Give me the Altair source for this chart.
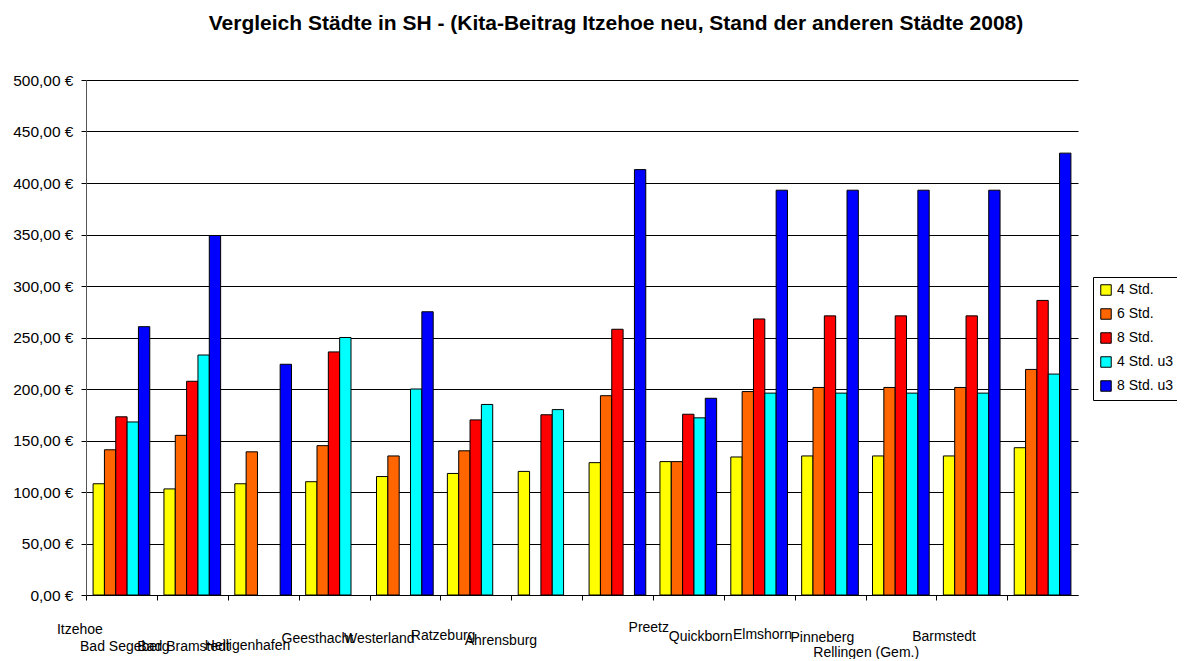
import altair as alt
import pandas as pd

cities = ["Itzehoe", "Bad Segeberg", "Bad Bramstedt", "Heiligenhafen", "Geesthacht",
          "Westerland", "Ratzeburg", "Ahrensburg", "Preetz", "Quickborn", "Elmshorn",
          "Pinneberg", "Rellingen (Gem.)", "Barmstedt"]
series = ["4 Std.", "6 Std.", "8 Std.", "4 Std. u3", "8 Std. u3"]
colors = ["#FFFF00", "#FF6600", "#FF0000", "#00FFFF", "#0000FF"]

std4 = [108, 103, 108, 110, 115, 118, 120, 128.5, 129.5, 134, 135, 135, 135, 143]
std6 = [141, 155, 139, 145, 135, 140, None, 193.5, 129.5, 197.5, 201.5, 201.5, 201.5, 219]
std8 = [173, 207.5, None, 236, None, 170, 175, 258, 175.5, 268, 271, 271, 271, 286]
std4u3 = [168, 233, None, 250, 200, 185, 180, None, 172, 196, 196, 196, 196, 214.5]
std8u3 = [260.5, 349, 224, None, 275, None, None, 413, 191, 393, 393, 393, 393, 429]

values = [std4, std6, std8, std4u3, std8u3]
rows = []
for s, vals in zip(series, values):
    for c, v in zip(cities, vals):
        if v is not None:
            rows.append({"Stadt": c, "Serie": s, "Beitrag": v})
df = pd.DataFrame(rows)

# label placement (Excel-like staggered category labels)
lab_dx = {"Itzehoe": -42, "Bad Segeberg": -68, "Bad Bramstedt": -80, "Heiligenhafen": -87,
          "Geesthacht": -88, "Westerland": -97, "Ratzeburg": -104, "Ahrensburg": -117,
          "Preetz": -40, "Quickborn": -59, "Elmshorn": -68, "Pinneberg": -79,
          "Rellingen (Gem.)": -106, "Barmstedt": -99}
lab_dy = {"Itzehoe": 29, "Bad Segeberg": 46, "Bad Bramstedt": 46, "Heiligenhafen": 45,
          "Geesthacht": 38, "Westerland": 38, "Ratzeburg": 35, "Ahrensburg": 40,
          "Preetz": 27, "Quickborn": 36, "Elmshorn": 34, "Pinneberg": 37,
          "Rellingen (Gem.)": 52, "Barmstedt": 36}


def lookup_expr(d, default):
    expr = str(default)
    for k, v in d.items():
        expr = f"datum.value === '{k}' ? {v} : ({expr})"
    return expr


TICK = 5
TICK_SHIFT = -7
pad_expr = lookup_expr({k: v - TICK + 5 for k, v in lab_dy.items()}, 30)
off_expr = lookup_expr({k: v - TICK_SHIFT for k, v in lab_dx.items()}, -60)

font = "Liberation Sans"

chart = alt.Chart(df).mark_bar(stroke="black", strokeWidth=1).encode(
    x=alt.X("Stadt:N", sort=cities, title=None,
            scale=alt.Scale(paddingInner=0.2, paddingOuter=0.1),
            axis=alt.Axis(labelAngle=0, labelFontSize=14, labelFont=font, labelColor="black",
                          labelBaseline="middle", labelAlign="center",
                          labelPadding=alt.ExprRef(expr=pad_expr),
                          labelOffset=alt.ExprRef(expr=off_expr),
                          labelOverlap=False, labelLimit=300,
                          tickSize=TICK, tickColor="black", domainColor="black",
                          bandPosition=0, tickOffset=TICK_SHIFT, grid=False)),
    xOffset=alt.XOffset("Serie:N", sort=series, scale=alt.Scale(paddingInner=0, paddingOuter=0)),
    y=alt.Y("Beitrag:Q", title=None,
            scale=alt.Scale(domain=[0, 500], nice=False),
            axis=alt.Axis(values=list(range(0, 501, 50)),
                          labelExpr="replace(format(datum.value, '.2f'), '.', ',') + ' €'",
                          labelFontSize=15.5, labelFont=font, labelColor="black",
                          tickSize=TICK, tickColor="black", domainColor="#555",
                          gridColor="black", gridWidth=1, labelPadding=8)),
    color=alt.Color("Serie:N", sort=series,
                    scale=alt.Scale(domain=series, range=colors),
                    legend=alt.Legend(title=None, orient="none", legendX=1007, legendY=197,
                                      symbolType="square", symbolSize=110,
                                      symbolStrokeColor="black", symbolStrokeWidth=1,
                                      labelFontSize=14, labelFont=font, labelColor="black",
                                      rowPadding=8, padding=6, strokeColor="black",
                                      fillColor="white", labelOffset=4)),
).properties(
    width=992, height=515,
    title=alt.TitleParams(
        "Vergleich Städte in SH - (Kita-Beitrag Itzehoe neu, Stand der anderen Städte 2008)",
        font=font, fontSize=21, fontWeight="bold", color="black", anchor="middle",
        dx=34, offset=39),
    autosize=alt.AutoSizeParams(type="none"),
    padding={"left": 78, "top": 72, "right": 99, "bottom": 64},
).configure_view(stroke=None)

chart.save("out.html", embed_options={"renderer": "svg", "actions": False})
